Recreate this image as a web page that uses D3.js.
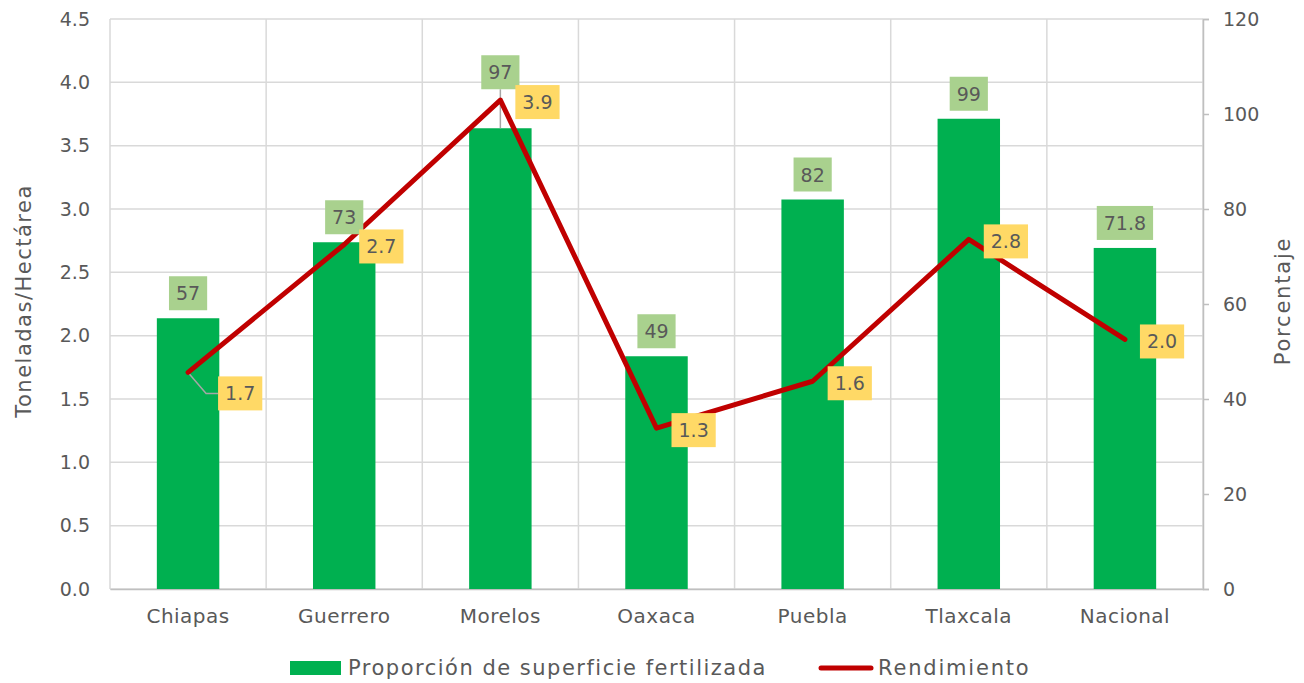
<!DOCTYPE html>
<html>
<head>
<meta charset="utf-8">
<script src="https://cdn.jsdelivr.net/npm/d3@7"></script>
<style>
  body { margin: 0; background: #fff; }
  text { font-family: "DejaVu Sans", "Noto Sans", sans-serif; fill: #595959; }
</style>
</head>
<body>
<div id="chart"></div>
<script>
// data
const estados = ["Chiapas", "Guerrero", "Morelos", "Oaxaca", "Puebla", "Tlaxcala", "Nacional"];
const proporcion = [57, 73, 97, 49, 82, 99, 71.8];
const proporcionLabels = ["57", "73", "97", "49", "82", "99", "71.8"];
const rendimiento = [1.71, 2.72, 3.86, 1.27, 1.64, 2.76, 1.97];
const rendimientoLabels = ["1.7", "2.7", "3.9", "1.3", "1.6", "2.8", "2.0"];
const leftTicks = [0, 0.5, 1, 1.5, 2, 2.5, 3, 3.5, 4, 4.5];
const rightTicks = [0, 20, 40, 60, 80, 100, 120];

const W = 1304, H = 683;
const margin = { top: 19, right: 101, bottom: 94, left: 110 },
    width = W - margin.left - margin.right,
    height = H - margin.top - margin.bottom;

const svg = d3.select("#chart").append("svg")
    .attr("width", W)
    .attr("height", H);

const plot = svg.append("g")
    .attr("transform", `translate(${margin.left},${margin.top})`);

// scales
const x = d3.scaleBand().domain(estados).range([0, width]);
const yLeft = d3.scaleLinear().domain([0, 4.5]).range([height, 0]);
const yRight = d3.scaleLinear().domain([0, 120]).range([height, 0]);

const gridColor = "#d9d9d9";
const fs = "19px";

// horizontal grid lines
plot.append("g").selectAll("line")
    .data(leftTicks)
    .enter().append("line")
    .attr("x1", 0).attr("x2", width)
    .attr("y1", d => yLeft(d)).attr("y2", d => yLeft(d))
    .attr("stroke", gridColor).attr("stroke-width", 1.5);

// vertical grid lines between categories
plot.append("g").selectAll("line")
    .data(d3.range(estados.length + 1))
    .enter().append("line")
    .attr("x1", i => i * x.step()).attr("x2", i => i * x.step())
    .attr("y1", 0).attr("y2", height)
    .attr("stroke", gridColor).attr("stroke-width", 1.5);

// left axis (labels only)
const leftAxis = plot.append("g")
    .call(d3.axisLeft(yLeft).tickValues(leftTicks).tickFormat(d3.format(".1f")).tickSize(0).tickPadding(20));
leftAxis.select(".domain").remove();
leftAxis.selectAll("text").style("font-size", fs).attr("fill", "#595959");

// right axis
const rightAxis = plot.append("g")
    .attr("transform", `translate(${width},0)`)
    .call(d3.axisRight(yRight).tickValues(rightTicks).tickSize(6).tickPadding(14));
rightAxis.select(".domain").attr("stroke", "#bfbfbf").attr("stroke-width", 1.5);
rightAxis.selectAll(".tick line").attr("stroke", "#bfbfbf").attr("stroke-width", 1.5);
rightAxis.selectAll("text").style("font-size", fs).attr("fill", "#595959");

// bottom axis
const bottomAxis = plot.append("g")
    .attr("transform", `translate(0,${height})`)
    .call(d3.axisBottom(x).tickSize(0).tickPadding(20));
bottomAxis.select(".domain").attr("stroke", "#bfbfbf").attr("stroke-width", 1.5);
bottomAxis.selectAll("text").style("font-size", "20px").style("letter-spacing", "0.5px").attr("fill", "#595959");

// bars
const barW = x.bandwidth() * 0.4;
plot.append("g").selectAll("rect")
    .data(estados)
    .enter().append("rect")
    .attr("x", (d, i) => x(d) + (x.bandwidth() - barW) / 2)
    .attr("y", (d, i) => yRight(proporcion[i]))
    .attr("width", barW)
    .attr("height", (d, i) => height - yRight(proporcion[i]))
    .attr("fill", "#00b050");

const cx = d => x(d) + x.bandwidth() / 2;

// leader lines (Chiapas line label, Morelos bar label)
plot.append("polyline")
    .attr("points", [
        [cx("Chiapas"), yLeft(rendimiento[0])],
        [cx("Chiapas") + 18, yLeft(rendimiento[0]) + 21],
        [cx("Chiapas") + 30, yLeft(rendimiento[0]) + 21]
    ].join(" "))
    .attr("fill", "none").attr("stroke", "#a6a6a6").attr("stroke-width", 1.5);

plot.append("line")
    .attr("x1", cx("Morelos")).attr("x2", cx("Morelos"))
    .attr("y1", yRight(proporcion[2]) - 39).attr("y2", yRight(proporcion[2]))
    .attr("stroke", "#a6a6a6").attr("stroke-width", 1.5);

// line
const line = d3.line()
    .x((d, i) => cx(estados[i]))
    .y(d => yLeft(d));

plot.append("path")
    .datum(rendimiento)
    .attr("d", line)
    .attr("fill", "none")
    .attr("stroke", "#c00000")
    .attr("stroke-width", 5)
    .attr("stroke-linejoin", "round")
    .attr("stroke-linecap", "round");

// bar labels
estados.forEach((d, i) => {
    const g = plot.append("g");
    let cy = yRight(proporcion[i]) - 25;
    if (d === "Morelos") cy = yRight(proporcion[i]) - 56;
    const t = g.append("text")
        .attr("x", cx(d)).attr("y", cy)
        .attr("text-anchor", "middle")
        .attr("dominant-baseline", "central")
        .style("font-size", fs)
        .text(proporcionLabels[i]);
    const w = t.node().getComputedTextLength() + 14;
    g.insert("rect", "text")
        .attr("x", cx(d) - w / 2).attr("y", cy - 17)
        .attr("width", w).attr("height", 34)
        .attr("fill", "#a9d18e");
});

// line labels
estados.forEach((d, i) => {
    const g = plot.append("g");
    const px = cx(d), py = yLeft(rendimiento[i]);
    let lx = px + 15, ly = py + 2;
    if (d === "Chiapas") { lx = px + 30; ly = py + 21; }
    const t = g.append("text")
        .attr("x", lx + 7).attr("y", ly)
        .attr("dominant-baseline", "central")
        .style("font-size", fs)
        .text(rendimientoLabels[i]);
    const w = t.node().getComputedTextLength() + 14;
    g.insert("rect", "text")
        .attr("x", lx).attr("y", ly - 17)
        .attr("width", w).attr("height", 34)
        .attr("fill", "#ffd966");
});

// axis titles
svg.append("text")
    .attr("transform", `translate(24,${margin.top + height / 2 - 3}) rotate(-90)`)
    .attr("text-anchor", "middle")
    .attr("dominant-baseline", "central")
    .style("font-size", "21px")
    .style("letter-spacing", "1.5px")
    .text("Toneladas/Hectárea");

svg.append("text")
    .attr("transform", `translate(1283,${margin.top + height / 2 - 3}) rotate(-90)`)
    .attr("text-anchor", "middle")
    .attr("dominant-baseline", "central")
    .style("font-size", "21px")
    .style("letter-spacing", "1.8px")
    .text("Porcentaje");

// legend
const legend = svg.append("g");
legend.append("rect")
    .attr("x", 290).attr("y", 661).attr("width", 51).attr("height", 14)
    .attr("fill", "#00b050");
legend.append("text")
    .attr("x", 348).attr("y", 668)
    .attr("dominant-baseline", "central")
    .style("font-size", "21px")
    .style("letter-spacing", "1.5px")
    .text("Proporción de superficie fertilizada");
legend.append("line")
    .attr("x1", 821).attr("x2", 871).attr("y1", 668).attr("y2", 668)
    .attr("stroke", "#c00000").attr("stroke-width", 5).attr("stroke-linecap", "round");
legend.append("text")
    .attr("x", 878).attr("y", 668)
    .attr("dominant-baseline", "central")
    .style("font-size", "21px")
    .style("letter-spacing", "1.8px")
    .text("Rendimiento");
</script>
</body>
</html>
